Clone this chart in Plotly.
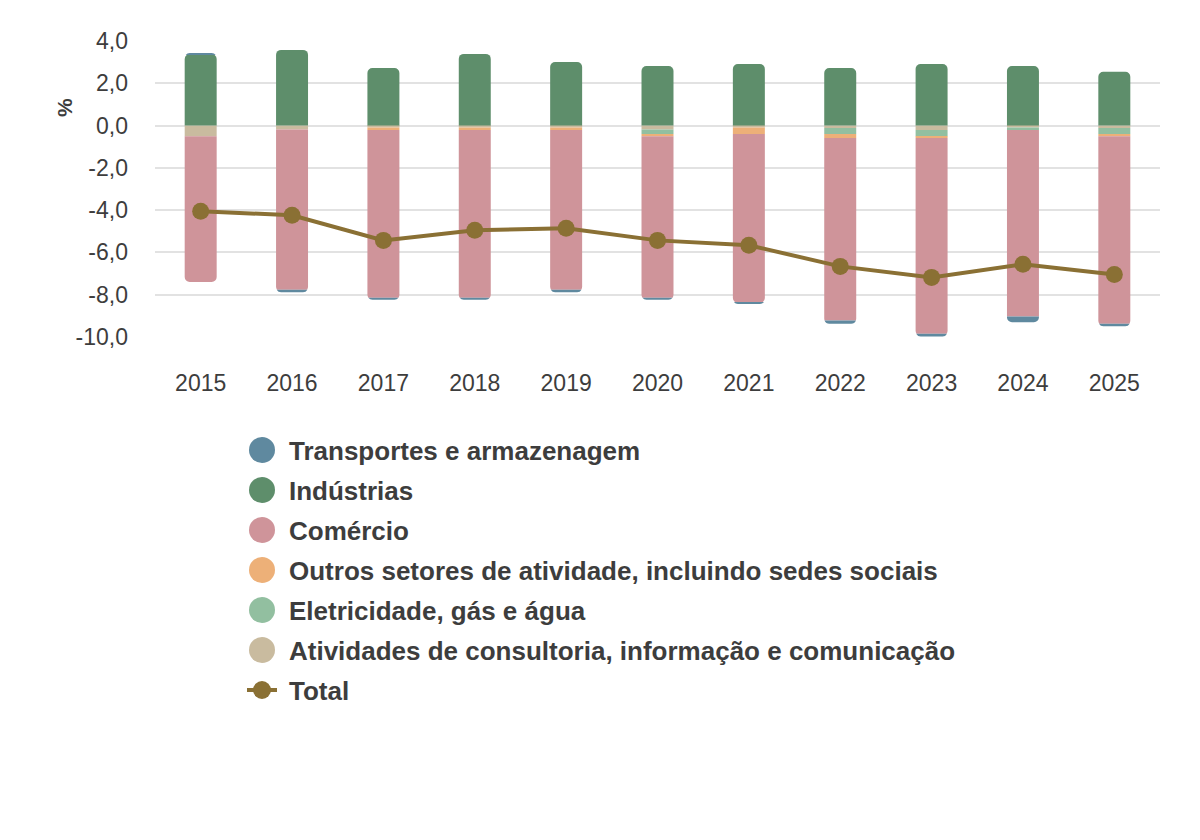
import plotly.graph_objects as go

years = ["2015", "2016", "2017", "2018", "2019", "2020", "2021", "2022", "2023", "2024", "2025"]

transportes = [0.05, -0.12, -0.10, -0.10, -0.12, -0.10, -0.08, -0.15, -0.13, -0.27, -0.12]
industrias = [3.34, 3.58, 2.72, 3.39, 3.01, 2.82, 2.91, 2.72, 2.91, 2.82, 2.54]
comercio = [-6.90, -7.58, -7.93, -7.93, -7.55, -7.64, -7.95, -8.63, -9.26, -8.82, -8.87]
outros = [0.0, 0.0, -0.12, -0.12, -0.12, -0.10, -0.31, -0.19, -0.09, 0.0, -0.10]
eletricidade = [0.0, 0.0, 0.0, 0.0, 0.0, -0.22, 0.0, -0.28, -0.29, -0.12, -0.28]
atividades = [-0.50, -0.18, -0.09, -0.09, -0.09, -0.18, -0.09, -0.12, -0.21, -0.09, -0.12]
total = [-4.05, -4.24, -5.43, -4.95, -4.86, -5.43, -5.66, -6.66, -7.18, -6.56, -7.04]

y_tick_values = [4, 2, 0, -2, -4, -6, -8, -10]
y_tick_labels = ["4,0", "2,0", "0,0", "-2,0", "-4,0", "-6,0", "-8,0", "-10,0"]

names = ["Transportes e armazenagem", "Indústrias", "Comércio",
         "Outros setores de atividade, incluindo sedes sociais",
         "Eletricidade, gás e água",
         "Atividades de consultoria, informação e comunicação"]
colors = ["#5f899f", "#5e8e6b", "#cf949a", "#edb078", "#92bfa0", "#c9bb9f"]
total_color = "#8a7034"
text_color = "#3d3d3d"

series = [transportes, industrias, comercio, outros, eletricidade, atividades]

fig = go.Figure()
# stacking order: nearest zero first
for idx in [5, 4, 3, 2, 1, 0]:
    fig.add_trace(go.Bar(x=years, y=series[idx], name=names[idx],
                         marker=dict(color=colors[idx], line=dict(width=0)),
                         width=0.35, showlegend=False))

fig.add_trace(go.Scatter(x=years, y=total, name="Total", mode="lines+markers",
                         line=dict(color=total_color, width=4),
                         marker=dict(color=total_color, size=17),
                         showlegend=False))

# plot area in pixels
L, R, T, B = 155, 1160, 41, 337
W, H = R - L, B - T

def px(xp):
    return (xp - L) / W

def py(yp):
    return (B - yp) / H

shapes = []
annotations = []
legend_names = names + ["Total"]
legend_colors = colors + [total_color]
for i, (nm, col) in enumerate(zip(legend_names, legend_colors)):
    cy = 450 + 40 * i
    cx = 262
    if nm == "Total":
        shapes.append(dict(type="line", xref="paper", yref="paper",
                           x0=px(247), x1=px(277), y0=py(cy), y1=py(cy),
                           line=dict(color=col, width=4)))
        r = 9
    else:
        r = 13
    shapes.append(dict(type="circle", xref="paper", yref="paper",
                       x0=px(cx - r), x1=px(cx + r), y0=py(cy + r), y1=py(cy - r),
                       fillcolor=col, line=dict(width=0)))
    annotations.append(dict(text=nm, xref="paper", yref="paper",
                            x=px(287), y=py(cy + 1), xanchor="left", yanchor="middle",
                            showarrow=False,
                            font=dict(family="Liberation Sans", size=26,
                                      color=text_color, weight="bold")))

annotations.append(dict(text="%", xref="paper", yref="paper",
                        x=px(65), y=py(108), textangle=-90,
                        xanchor="center", yanchor="middle", showarrow=False,
                        font=dict(family="Liberation Sans", size=21,
                                  color=text_color, weight="bold")))

fig.update_layout(
    width=1200, height=840,
    margin=dict(l=L, r=1200 - R, t=T, b=840 - B, pad=0),
    barmode="relative",
    barcornerradius=5,
    plot_bgcolor="white", paper_bgcolor="white",
    font=dict(family="Liberation Sans", size=23, color=text_color),
    shapes=shapes, annotations=annotations,
    showlegend=False,
)
fig.update_xaxes(type="category", range=[-0.5, 10.5], showgrid=False,
                 showline=False, ticks="", ticklabelstandoff=30,
                 tickfont=dict(size=23, color=text_color))
fig.update_yaxes(range=[-10, 4], tickmode="array", tickvals=y_tick_values,
                 ticktext=y_tick_labels,
                 gridcolor="#e2e2e2", gridwidth=1.5,
                 zeroline=True, zerolinecolor="#e2e2e2", zerolinewidth=1.5,
                 showline=False, ticks="", ticklabelstandoff=26,
                 tickfont=dict(size=23, color=text_color))

fig.write_html("out.html")
